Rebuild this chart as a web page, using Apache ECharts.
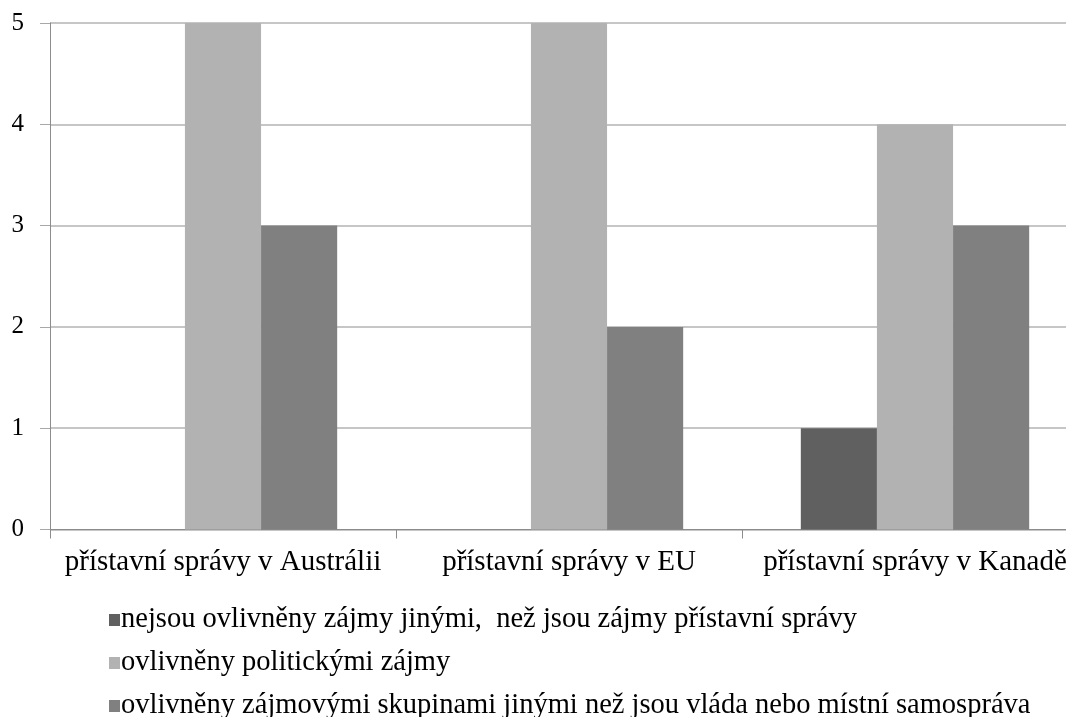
<!DOCTYPE html>
<html>
<head>
<meta charset="utf-8">
<script src="https://cdn.jsdelivr.net/npm/echarts@6/dist/echarts.min.js"></script>
<style>
  html, body { margin: 0; padding: 0; background: #ffffff; }
  #chart { width: 1066px; height: 717px; }
</style>
</head>
<body>
<div id="chart"></div>
<script>
// Categories (port authorities by region)
const categories = [
  'přístavní správy v Austrálii',
  'přístavní správy v EU',
  'přístavní správy v Kanadě'
];

// Series names
const seriesNames = [
  'nejsou ovlivněny zájmy jinými,  než jsou zájmy přístavní správy',
  'ovlivněny politickými zájmy',
  'ovlivněny zájmovými skupinami jinými než jsou vláda nebo místní samospráva'
];

// Series values per category
const notInfluenced = [0, 0, 1];
const political = [5, 5, 4];
const interestGroups = [3, 2, 3];

// Value axis ticks
const yTicks = [0, 1, 2, 3, 4, 5];

const colors = ['#606060', '#b2b2b2', '#808080'];
const fontFamily = "'Liberation Serif', 'Times New Roman', serif";

const chart = echarts.init(document.getElementById('chart'), null, { renderer: 'canvas' });

const values = [notInfluenced, political, interestGroups];

// One legend row per series, stacked vertically under the plot
const legendTops = [597, 640, 683];
const legends = seriesNames.map((name, i) => ({
  orient: 'vertical',
  left: 104,
  top: legendTops[i],
  itemWidth: 11,
  itemHeight: 12,
  itemGap: 0,
  icon: 'rect',
  data: [name],
  textStyle: {
    fontFamily: fontFamily,
    fontSize: 28.5,
    color: '#000000',
    lineHeight: 36,
    padding: [0, 0, 0, -4]
  }
}));

chart.setOption({
  animation: false,
  backgroundColor: '#ffffff',
  color: colors,
  grid: {
    left: 50,
    width: 1038,
    top: 23,
    height: 506.5,
    containLabel: false,
    outerBoundsMode: 'none'
  },
  legend: legends,
  xAxis: {
    type: 'category',
    data: categories,
    boundaryGap: true,
    axisLine: { show: true, lineStyle: { color: '#8c8c8c', width: 1 } },
    axisTick: { show: true, length: 9, alignWithLabel: false, lineStyle: { color: '#8c8c8c' } },
    axisLabel: {
      fontFamily: fontFamily,
      fontSize: 29,
      color: '#000000',
      margin: 18,
      interval: 0
    },
    splitLine: { show: false }
  },
  yAxis: {
    type: 'value',
    min: yTicks[0],
    max: yTicks[yTicks.length - 1],
    interval: 1,
    axisLine: { show: true, lineStyle: { color: '#8c8c8c', width: 1 } },
    axisTick: { show: true, length: 10, lineStyle: { color: '#a8a8a8' } },
    axisLabel: {
      fontFamily: fontFamily,
      fontSize: 25,
      color: '#000000',
      margin: 26
    },
    splitLine: { show: true, lineStyle: { color: '#b3b3b3', width: 1.5 } }
  },
  series: seriesNames.map((name, i) => ({
    name: name,
    type: 'bar',
    data: values[i],
    barGap: '0%',
    barCategoryGap: '34%',
    itemStyle: { color: colors[i] },
    emphasis: { disabled: true }
  }))
});
</script>
</body>
</html>
